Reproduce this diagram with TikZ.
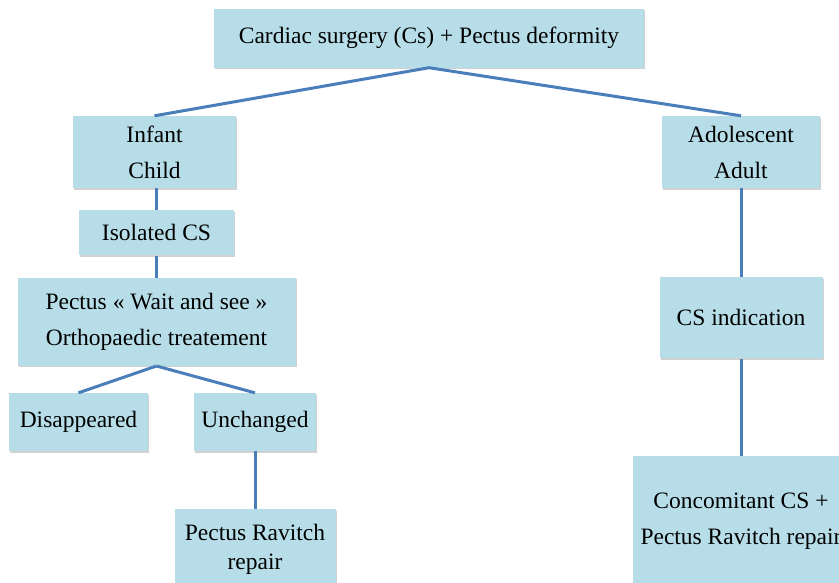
\documentclass[tikz,border=0pt]{standalone}
\usepackage{fontspec}
\setmainfont{Liberation Serif}
\usetikzlibrary{positioning,shadows}
\definecolor{boxblue}{HTML}{B7DEE8}
\definecolor{lineblue}{HTML}{4A7EBB}
\tikzstyle{class} = [rectangle, fill=boxblue, align=center, inner sep=0pt, font=\fontsize{23.5}{36}\selectfont, drop shadow={shadow xshift=1pt, shadow yshift=-1.5pt, opacity=0.3, fill=black!60}]
\tikzstyle{link} = [draw=lineblue, line width=3pt]

\begin{document}
\begin{tikzpicture}[x=1pt,y=-1pt]
	\useasboundingbox (0,0) rectangle (839,582);
	\node (Cardiac) [class, minimum width=430pt, minimum height=59pt] at (429,38) {Cardiac surgery (Cs) + Pectus deformity};
	\node (Infant) [class, minimum width=163pt, minimum height=72pt] at (154.5,152) {Infant\\Child};
	\node (Adolescent) [class, minimum width=158pt, minimum height=72pt] at (741,152) {Adolescent\\Adult};
	\node (Isolated) [class, minimum width=155pt, minimum height=45pt, below = 22pt of Infant, xshift=2pt] {Isolated CS};
	\node (Wait) [class, minimum width=278pt, minimum height=88pt, below = 22pt of Isolated] {Pectus « Wait and see »\\Orthopaedic treatement};
	\node (Disappeared) [class, minimum width=139pt, minimum height=58pt] at (78.5,422) {Disappeared};
	\node (Unchanged) [class, minimum width=122pt, minimum height=58pt] at (255,422) {Unchanged};
	\node (Ravitch) [class, minimum width=161pt, minimum height=80pt, below = 58pt of Unchanged, font=\fontsize{23.5}{29}\selectfont] {Pectus Ravitch\\repair};
	\node (Indication) [class, minimum width=163pt, minimum height=81pt, below = 89pt of Adolescent] {CS indication};
	\node (Concomitant) [class, minimum width=216pt, minimum height=130pt, below = 97pt of Indication] {Concomitant CS +\\Pectus Ravitch repair};

	\draw[link] (Cardiac.south) -- (Infant.north);
	\draw[link] (Cardiac.south) -- (Adolescent.north);
	\draw[link] (Infant.south -| Isolated) -- (Isolated.north);
	\draw[link] (Isolated.south) -- (Wait.north);
	\draw[link] (Wait.south) -- (Disappeared.north);
	\draw[link] (Wait.south) -- (Unchanged.north);
	\draw[link] (Unchanged.south) -- (Ravitch.north);
	\draw[link] (Adolescent.south) -- (Indication.north);
	\draw[link] (Indication.south) -- (Concomitant.north);
\end{tikzpicture}
\end{document}
